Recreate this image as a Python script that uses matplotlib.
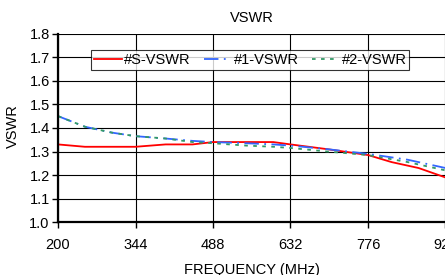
import numpy as np
import matplotlib.pyplot as plt

plt.rcParams['font.family'] = ['Liberation Sans', 'DejaVu Sans']

# data
freq_s = [200, 250, 300, 344, 400, 450, 488, 550, 600, 632, 700, 776, 820, 870, 920]
vswr_s = [1.33, 1.32, 1.32, 1.32, 1.33, 1.33, 1.34, 1.34, 1.34, 1.33, 1.31, 1.285, 1.255, 1.23, 1.19]

freq_1 = [200, 250, 300, 344, 400, 450, 488, 550, 600, 632, 700, 776, 850, 920]
vswr_1 = [1.45, 1.405, 1.38, 1.365, 1.355, 1.345, 1.34, 1.335, 1.33, 1.325, 1.31, 1.29, 1.265, 1.23]

freq_2 = [200, 250, 300, 344, 400, 450, 488, 550, 600, 632, 700, 776, 850, 920]
vswr_2 = [1.45, 1.405, 1.38, 1.365, 1.355, 1.34, 1.335, 1.325, 1.32, 1.315, 1.30, 1.285, 1.255, 1.22]

xticks = [200, 344, 488, 632, 776, 920]
yticks = [1.0, 1.1, 1.2, 1.3, 1.4, 1.5, 1.6, 1.7, 1.8]

fig = plt.figure(figsize=(4.45, 2.75), dpi=100)
ax = fig.add_axes([58 / 445, 1 - 222.3 / 275, (445.5 - 58) / 445, (222.3 - 33.5) / 275])

ax.plot(freq_s, vswr_s, color='#ff0000', lw=1.3, label='#S-VSWR')
ax.plot(freq_1, vswr_1, color='#3366ff', lw=1.3, dashes=[8, 3, 1, 3], label='#1-VSWR')
ax.plot(freq_2, vswr_2, color='#339966', lw=1.3, dashes=[2, 3], label='#2-VSWR')

ax.set_xlim(200, 920)
ax.set_ylim(1.0, 1.8)
ax.set_xticks(xticks)
ax.set_yticks(yticks)
ax.set_yticklabels(['%.1f' % v for v in yticks])
ax.grid(True, color='black', lw=0.8)
ax.set_axisbelow(True)
for side in ['top', 'right']:
    ax.spines[side].set_visible(False)
for side in ['left', 'bottom']:
    ax.spines[side].set_linewidth(1.6)
ax.tick_params(axis='both', labelsize=10.5, direction='out', length=4, width=1, pad=2)
ax.tick_params(axis='x', pad=7)

ax.set_title('VSWR', fontsize=10.5, pad=8)
ax.set_xlabel('FREQUENCY (MHz)', fontsize=10.5, labelpad=8)
ax.set_ylabel('VSWR', fontsize=10.5)
ax.yaxis.set_label_coords(-0.098, 0.51)

leg = ax.legend(loc='upper left', bbox_to_anchor=(33 / 387.5, 1 - 16.5 / 188.8), ncol=3,
                fontsize=10.5, frameon=True, fancybox=False, borderpad=0.2,
                handlelength=1.9, handletextpad=0.15, columnspacing=0.9, borderaxespad=0)
leg.get_frame().set_edgecolor('black')
leg.get_frame().set_linewidth(0.8)

fig.savefig('out.png', dpi=100)
